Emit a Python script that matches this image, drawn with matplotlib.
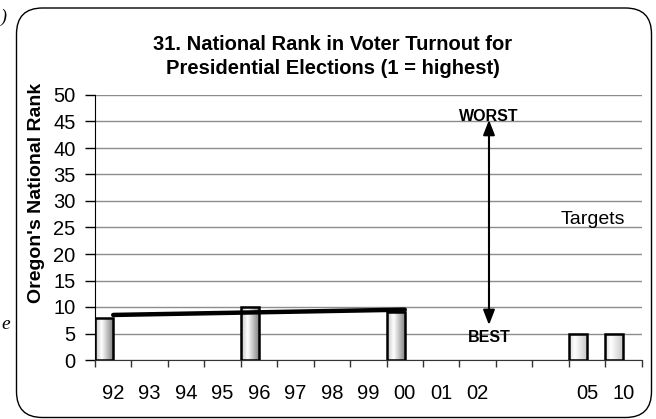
import numpy as np
import matplotlib
matplotlib.use("Agg")
import matplotlib.pyplot as plt
import matplotlib.patches as mpatches
from matplotlib.transforms import IdentityTransform
from matplotlib.colors import LinearSegmentedColormap

plt.rcParams['font.family'] = ['Liberation Sans', 'DejaVu Sans']

# ---- data ----
categories = ['92', '93', '94', '95', '96', '97', '98', '99', '00', '01', '02', '', '', '05', '10']
actual_idx = [0, 4, 8]          # 92, 96, 00
actual_vals = [8, 10, 9]
target_idx = [13, 14]           # 05, 10
target_vals = [5, 5]
title = "31. National Rank in Voter Turnout for\nPresidential Elections (1 = highest)"
ylabel = "Oregon's National Rank"

W, H = 656, 419
fig = plt.figure(figsize=(W / 100, H / 100), dpi=100)
ax = fig.add_axes([95 / W, 1 - 360 / H, (641.7 - 95) / W, (360 - 95) / H])

# gridlines
ax.set_ylim(0, 50)
ax.set_xlim(0, len(categories))
ax.set_yticks(np.arange(0, 51, 5))
ax.yaxis.grid(True, color='#8c8c8c', lw=1)
ax.set_axisbelow(True)

# bars with gradient fill
cmap_main = LinearSegmentedColormap.from_list('m', [(0, '#c4c4c4'), (0.35, '#ffffff'), (1.0, '#7a7a7a')])
cmap_tgt = LinearSegmentedColormap.from_list('t', [(0, '#dcdcdc'), (0.3, '#ffffff'), (1.0, '#c4c4c4')])
grad = np.linspace(0, 1, 64).reshape(1, -1)

def draw_bars(idx, vals, cmap):
    bars = ax.bar(idx, vals, width=0.5, align='edge', facecolor='none',
                  edgecolor='black', lw=1.8, zorder=3)
    for r in bars:
        x0, y0 = r.get_x(), r.get_y()
        im = ax.imshow(grad, cmap=cmap, extent=[x0, x0 + r.get_width(), y0, y0 + r.get_height()],
                       aspect='auto', zorder=2, interpolation='bilinear')
        im.set_clip_path(r)

draw_bars(actual_idx, actual_vals, cmap_main)
draw_bars(target_idx, target_vals, cmap_tgt)

# trend line across actual values (category centers)
coef = np.polyfit(actual_idx, actual_vals, 1)
xs = np.array([actual_idx[0], actual_idx[-1]], dtype=float)
ax.plot(xs + 0.5, np.polyval(coef, xs), color='black', lw=3.2, solid_capstyle='round', zorder=4)

ax.set_xlim(0, len(categories))
ax.set_ylim(0, 50)

# ticks
ax.set_xticks(np.arange(0, len(categories) + 1))
ax.set_xticklabels([])
ax.set_xticks(np.arange(len(categories)) + 0.5, minor=True)
ax.set_xticklabels(categories, minor=True)
ax.tick_params(axis='x', which='major', direction='out', length=5, width=1, color='#333333')
ax.tick_params(axis='x', which='minor', length=0, pad=17, labelsize=14.5)
ax.tick_params(axis='y', direction='out', length=7, width=1, pad=7, labelsize=14.5)

for s in ['top', 'right']:
    ax.spines[s].set_visible(False)
ax.spines['left'].set_color('black')
ax.spines['bottom'].set_color('#333333')

ax.set_ylabel(ylabel, fontsize=14, fontweight='bold')
ax.yaxis.set_label_coords(-0.0915, 0.63)

# arrow and annotations
ax.annotate('', xy=(10.81, 45.3), xytext=(10.81, 6.6),
            arrowprops=dict(arrowstyle='<|-|>,head_length=0.9,head_width=0.35', color='black', lw=1.5,
                            shrinkA=0, shrinkB=0), zorder=5)
ax.text(10.81, 45.9, 'WORST', ha='center', va='center', fontsize=11.5, fontweight='bold', zorder=6)
ax.text(10.81, 4.25, 'BEST', ha='center', va='center', fontsize=11.5, fontweight='bold', zorder=6)
ax.text(13.65, 25.7, 'Targets', ha='center', va='baseline', fontsize=14)

# title (two lines, baselines at ~50px and ~73px from the top)
line1, line2 = title.split('\n')
fig.text(333 / W, 1 - 50 / H, line1, ha='center', va='baseline', fontsize=14.5, fontweight='bold')
fig.text(333 / W, 1 - 73.5 / H, line2, ha='center', va='baseline', fontsize=14.5, fontweight='bold')

# rounded frame
frame = mpatches.FancyBboxPatch((16.5, 1.5), 651.5 - 16.5, 411 - 1.5,
                                boxstyle='round,pad=0,rounding_size=26',
                                transform=IdentityTransform(), facecolor='none',
                                edgecolor='black', lw=1.0)
fig.patches.append(frame)

# stray fragments of surrounding page text
fig.text(0.001, 1 - 22 / H, ')', fontsize=13, style='italic',
         family=['Liberation Serif', 'DejaVu Serif'])
fig.text(0.002, 1 - 329 / H, 'e', fontsize=14, style='italic',
         family=['Liberation Serif', 'DejaVu Serif'])

fig.savefig('out.png', dpi=100)
